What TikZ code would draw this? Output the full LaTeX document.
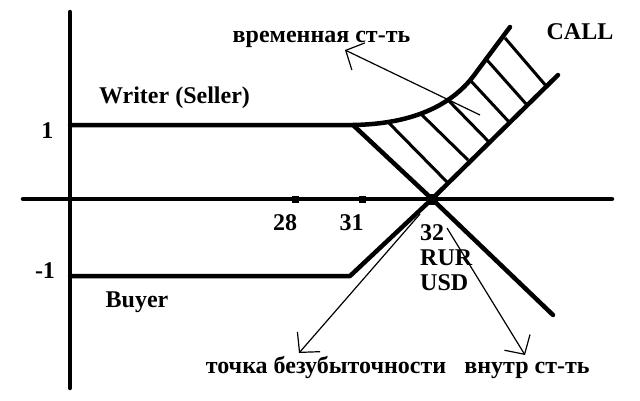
\documentclass[tikz,border=0pt]{standalone}
\usepackage{fontspec}
\setmainfont{Liberation Serif}
\usetikzlibrary{arrows.meta}
\begin{document}
\begin{tikzpicture}[x=1pt,y=-1pt,
	every node/.style = {inner sep=0pt, anchor=base, font=\fontsize{24}{25}\selectfont\bfseries},
	graph/.style = {line width=4.5pt, line cap=round, line join=round},
	hatch/.style = {line width=3pt},
	pointer/.style = {line width=1.2pt, -{Straight Barb[length=14pt,width=30pt]}},
	dot/.style = {fill, anchor=center, minimum size=7pt}]
\useasboundingbox (0,0) rectangle (640,400);
\coordinate (ytop) at (70,12);
\coordinate (ybot) at (70,388);
\coordinate (xleft) at (23,199);
\coordinate (xright) at (612,199);
\coordinate (w0) at (70,125);
\coordinate (w1) at (353,125);
\coordinate (wc) at (475,74);
\coordinate (wt) at (510,27);
\coordinate (we) at (553,315);
\coordinate (b0) at (70,276);
\coordinate (b1) at (350,276);
\coordinate (bt) at (558,75);
\coordinate (tmptail) at (480,115);
\coordinate (beptail) at (420,214);
\coordinate (intrtail) at (447,228);
\node[dot] (t28) at (295,199) {};
\node[dot] (t31) at (362,199) {};
\node[dot, minimum size=11pt] (x32) at (432,199) {};
\node (vrem) at (321.5,42) {временная ст-ть};
\node (call) at (580,39) {CALL};
\node (writer) at (174.5,103) {Writer (Seller)};
\node (one) at (47.5,138) {1};
\node (mone) at (45,278) {-1};
\node (buyer) at (137,307) {Buyer};
\node (l28) at (285,230) {28};
\node (l31) at (351.5,230) {31};
\node[anchor=base west] (l32) at (420,240) {32};
\node[anchor=base west] (rur) at (420,265) {RUR};
\node[anchor=base west] (usd) at (420,290) {USD};
\node (bep) at (326,373) {точка безубыточности};
\node (intr) at (527,373) {внутр ст-ть};
\draw[graph] (ytop) -- (ybot);
\draw[graph] (xleft) -- (xright);
\draw[graph] (w0) -- (w1) .. controls (410,124) and (451,107) .. (wc) -- (wt);
\draw[graph] (w1) -- (x32.center) -- (we);
\draw[graph] (b0) -- (b1) -- (x32.center) -- (bt);
\draw[hatch] (388,122) -- (447,182) (422,115) -- (468,160) (448,100) -- (490,143)
	(470,80) -- (510,123) (487,60) -- (527,105) (505,38) -- (547,87);
\draw[pointer] (tmptail) -- ([xshift=23.5pt,yshift=-8pt]vrem.base);
\draw[pointer] (beptail) -- ([xshift=-27pt,yshift=20pt]bep.base);
\draw[pointer] (intrtail) -- ([xshift=-2pt,yshift=18pt]intr.base);
\end{tikzpicture}
\end{document}
